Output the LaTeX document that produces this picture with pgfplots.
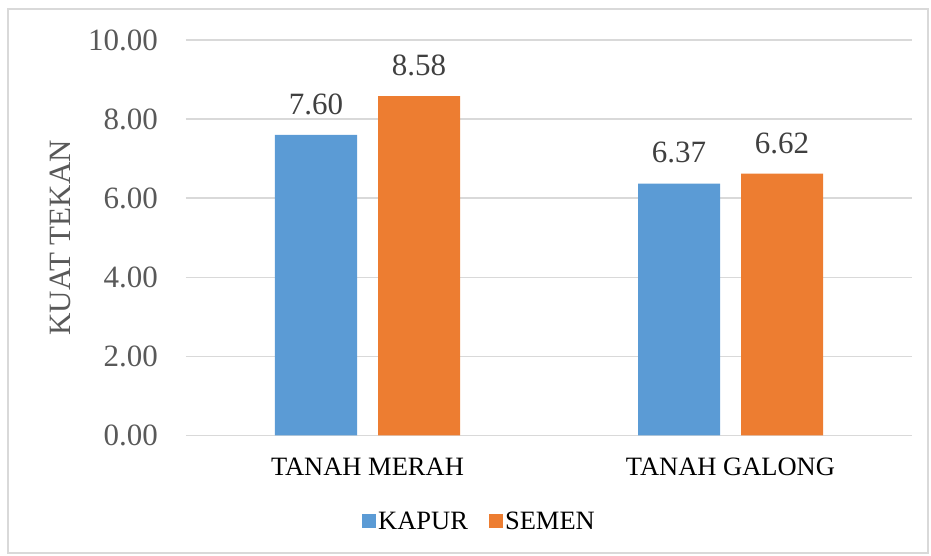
\documentclass[border=0pt]{standalone}
\usepackage{pgfplots}
\pgfplotsset{compat=1.18}
\usepackage{fontspec}
\setmainfont{Liberation Serif}

\definecolor{kapur}{HTML}{5B9BD5}
\definecolor{semen}{HTML}{ED7D31}
\definecolor{gridc}{HTML}{D9D9D9}
\definecolor{tickc}{HTML}{595959}
\definecolor{labc}{HTML}{404040}

\newcommand{\fbig}{\fontsize{31}{31}\selectfont}
\newcommand{\fmid}{\fontsize{26.5}{26.5}\selectfont}

\begin{document}
\begin{tikzpicture}
\begin{axis}[
    at={(0pt,0pt)}, anchor=south west,
    scale only axis, width=726pt, height=395.5pt,
    xmin=-0.5, xmax=1.5, ymin=0, ymax=10,
    ybar=21pt, bar width=82pt,
    xtick={0,1}, xticklabels={TANAH MERAH, TANAH GALONG},
    ytick={0,2,4,6,8,10},
    major tick length=0pt,
    axis line style={draw=none},
    ymajorgrids, grid style={gridc, line width=1.5pt},
    /pgf/number format/.cd, fixed, fixed zerofill, precision=2, assume math mode=true,
    /pgfplots/.cd,
    yticklabel style={font=\fbig, text=tickc, inner sep=0pt, xshift=-28pt},
    xticklabel style={font=\fmid, text=black, inner sep=0pt, anchor=north, yshift=-22.5pt},
    ylabel={KUAT TEKAN},
    every axis y label/.style={at={(axis description cs:0,0.5)}, xshift=-126pt, rotate=90, anchor=center, font=\fbig, text=tickc},
    nodes near coords,
    every node near coord/.append style={font=\fbig, text=labc, inner sep=0pt, anchor=south, yshift=20pt},
    legend columns=2,
    legend style={draw=none, fill=none, at={(0.4043,-0.2162)}, anchor=center, font=\fmid, text=black,
        /tikz/every even column/.append style={column sep=19pt}},
    legend image code/.code={\fill[#1, draw=none] (0pt,-7pt) rectangle (14pt,7pt);},
]
\addplot[fill=kapur, draw=none] coordinates {(0,7.60) (1,6.37)};
\addlegendentry{KAPUR}
\addplot[fill=semen, draw=none] coordinates {(0,8.58) (1,6.62)};
\addlegendentry{SEMEN}
\end{axis}
\draw[gridc, line width=1.5pt] (-178pt,-117.5pt) rectangle (742pt,426.5pt);
\path (-186pt,-120.5pt) rectangle (745pt,435.5pt);
\end{tikzpicture}
\end{document}
